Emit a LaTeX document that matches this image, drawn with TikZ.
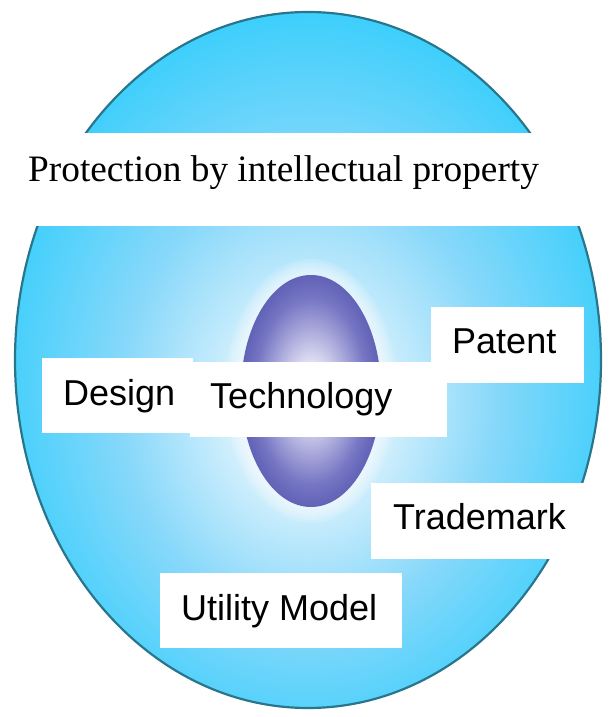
\documentclass[tikz,border=0pt]{standalone}
\usepackage{fontspec}
\setmainfont{Liberation Serif}
\newfontfamily\labelfont{Liberation Sans}
\usetikzlibrary{shapes.geometric}

\definecolor{rimteal}{RGB}{40,118,140}
\definecolor{skycyan}{RGB}{40,204,252}
\definecolor{skymid}{RGB}{135,216,250}
\definecolor{skypale}{RGB}{226,244,253}
\definecolor{eggdeep}{RGB}{60,60,158}
\definecolor{eggmid}{RGB}{118,118,196}
\definecolor{egglight}{RGB}{234,232,247}

% soft light-blue globe: white core, saturated cyan toward the rim
\pgfdeclareradialshading{skyglow}{\pgfpoint{0bp}{-4bp}}{%
  color(0bp)=(white); color(5bp)=(skypale); color(16bp)=(skymid);
  color(30bp)=(skycyan); color(50bp)=(skycyan)}
% violet core in the middle
\pgfdeclareradialshading{eggglow}{\pgfpoint{0bp}{0bp}}{%
  color(0bp)=(egglight); color(5bp)=(egglight); color(20bp)=(eggmid);
  color(34bp)=(eggdeep); color(50bp)=(eggdeep)}

\tikzset{
  globe/.style={ellipse, inner sep=0pt, shading=skyglow,
    draw=rimteal, line width=2.2pt},
  core/.style={ellipse, inner sep=0pt, shading=eggglow},
  whitebox/.style={fill=white, inner sep=0pt, anchor=north west},
  sanslabel/.style={anchor=base west, inner sep=0pt,
    font=\labelfont\fontsize{36}{40}\selectfont},
  seriflabel/.style={anchor=base west, inner sep=0pt,
    font=\fontsize{37.3}{42}\selectfont},
}

\begin{document}
\begin{tikzpicture}[x=1pt, y=-1pt]
  \useasboundingbox (0,0) rectangle (614,717);
  \fill[white] (0,0) rectangle (614,717);

  % outer globe
  \node[globe, minimum width=586pt, minimum height=696pt] (globe) at (308,360) {};

  % faint glow around the core
  \foreach \g in {16,13,10,7,4}
    \fill[white, opacity=0.14] (311,391) ellipse ({70+\g} and {116+\g});

  % violet core
  \node[core, minimum width=140pt, minimum height=232pt] (core) at (311,391) {};

  % title band
  \node[whitebox, minimum width=593pt, minimum height=93pt] (titlebox) at (5,133) {};
  \node[seriflabel] (title) at (28,181) {Protection by intellectual property};

  % label boxes
  \node[whitebox, minimum width=151pt, minimum height=75pt] (designbox) at (42,358) {};
  \node[whitebox, minimum width=257pt, minimum height=75pt] (techbox) at (190,362) {};
  \node[whitebox, minimum width=153pt, minimum height=76pt] (patentbox) at (431,307) {};
  \node[whitebox, minimum width=224pt, minimum height=76pt] (trademarkbox) at (371,483) {};
  \node[whitebox, minimum width=242pt, minimum height=75pt] (utilitybox) at (160,573) {};

  % labels
  \node[sanslabel] (design) at (63,405) {Design};
  \node[sanslabel] (tech) at (210,408) {Technology};
  \node[sanslabel] (patent) at (452,353) {Patent};
  \node[sanslabel] (trademark) at (393,529) {Trademark};
  \node[sanslabel] (utility) at (181,620) {Utility Model};
\end{tikzpicture}
\end{document}
